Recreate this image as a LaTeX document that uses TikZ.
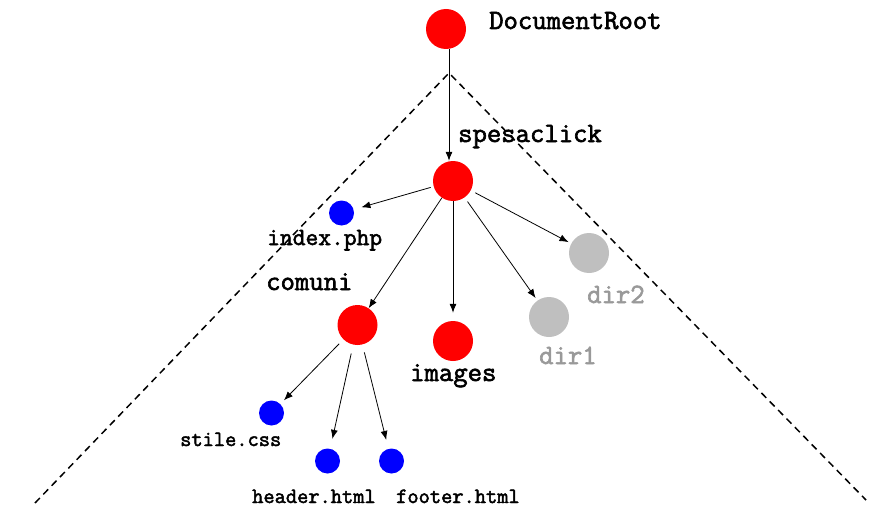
\documentclass[tikz,border=0pt]{standalone}
\usepackage{fontspec}
\newfontfamily\treefont[FakeBold=2.2]{Latin Modern Mono}
\usepackage{tikz}
\usetikzlibrary{arrows.meta}
\tikzstyle{folder} = [circle, fill=red, minimum size=40pt, inner sep=0pt]
\tikzstyle{file} = [circle, fill=blue, minimum size=25pt, inner sep=0pt]
\tikzstyle{other} = [circle, fill=gray!50, minimum size=40pt, inner sep=0pt]
\tikzstyle{bigname} = [anchor=base west, inner sep=0pt,
    font=\fontsize{27.9}{30}\selectfont\treefont]
\tikzstyle{midname} = [bigname, font=\fontsize{24.8}{27}\selectfont\treefont]
\tikzstyle{smallname} = [bigname, font=\fontsize{21.8}{24}\selectfont\treefont]
\tikzstyle{link} = [-{Latex[length=9pt,width=7pt]}, line width=0.8pt]

\begin{document}
\begin{tikzpicture}[x=1pt,y=-1pt]
    \useasboundingbox (0,0) rectangle (877,508);

    % the tree
    \node [folder] (root) at (446,29) {};
    \node [folder] (spesaclick) at (453,181) {};
    \node [file] (indexphp) at (341.5,213) {};
    \node [folder] (comuni) at (357.5,325) {};
    \node [folder] (images) at (453,341) {};
    \node [other] (dirone) at (549,317) {};
    \node [other] (dirtwo) at (589,253) {};
    \node [file] (stile) at (271.5,413) {};
    \node [file] (header) at (327.5,461) {};
    \node [file] (footer) at (391.5,461) {};

    % names
    \node [bigname] (rootname) at (489,29) {DocumentRoot};
    \node [bigname] (spesaclickname) at (458,142) {spesaclick};
    \node [midname] (indexphpname) at (267,245) {index.php};
    \node [bigname] (comuniname) at (266,290) {comuni};
    \node [bigname] (imagesname) at (410,381) {images};
    \node [bigname, text=gray!80] (dironename) at (539,364) {dir1};
    \node [bigname, text=gray!80] (dirtwoname) at (587,303) {dir2};
    \node [smallname] (stilename) at (180,446) {stile.css};
    \node [smallname] (headername) at (252,503) {header.html};
    \node [smallname] (footername) at (396,503) {footer.html};

    % the cone
    \coordinate (apex) at (449,73);
    \coordinate (leftfoot) at (35,503);
    \coordinate (rightfoot) at (866,500);
    \draw [line width=1.5pt, dash pattern=on 7pt off 5pt]
        (leftfoot) -- (apex) -- (rightfoot);

    \draw [link] (root.south -| apex) -- (spesaclick.north -| apex);
    \draw [link, shorten <=3pt, shorten >=8pt] (spesaclick) -- (indexphp);
    \draw [link] (spesaclick) -- (comuni);
    \draw [link, shorten >=8pt] (spesaclick) -- (images);
    \draw [link, shorten <=5pt, shorten >=3pt] (spesaclick) -- (dirone);
    \draw [link, shorten <=5pt, shorten >=3pt] (spesaclick) -- (dirtwo);
    \draw [link, shorten <=6pt, shorten >=5pt] (comuni) -- (stile);
    \draw [link, shorten <=9pt, shorten >=10pt] (comuni) -- (header);
    \draw [link, shorten <=8pt, shorten >=9pt] (comuni) -- (footer);
\end{tikzpicture}
\end{document}
